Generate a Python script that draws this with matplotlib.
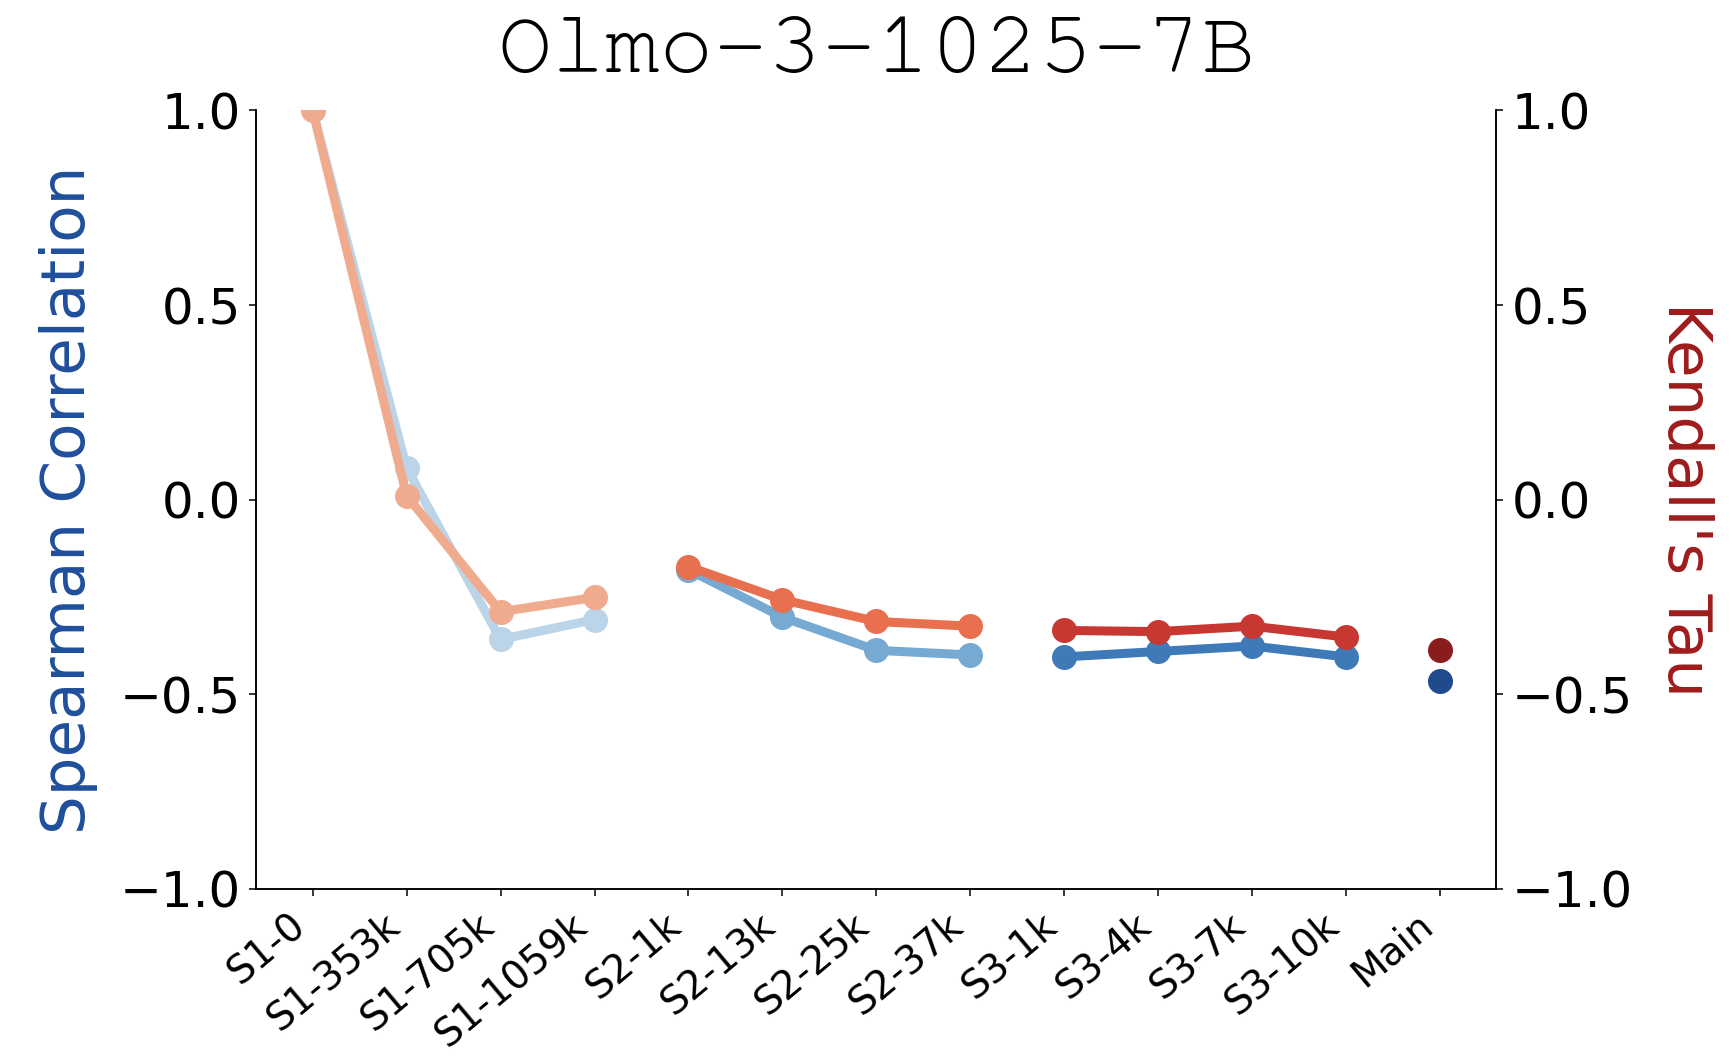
import matplotlib
matplotlib.use("Agg")
import matplotlib.pyplot as plt
from matplotlib import font_manager
import numpy as np

categories = ["S1-0", "S1-353k", "S1-705k", "S1-1059k", "S2-1k", "S2-13k", "S2-25k",
              "S2-37k", "S3-1k", "S3-4k", "S3-7k", "S3-10k", "Main"]
spearman = [1.0, 0.081, -0.359, -0.308, -0.18, -0.302, -0.387, -0.399,
            -0.404, -0.39, -0.376, -0.404, -0.467]
kendall = [1.0, 0.01, -0.288, -0.251, -0.172, -0.257, -0.313, -0.325,
           -0.336, -0.339, -0.325, -0.353, -0.387]
# stage groups (index ranges)
groups = [(0, 4), (4, 8), (8, 12), (12, 13)]
blue_colors = ["#bcd4e8", "#76aad2", "#3f7ab8", "#1f4a8c"]
red_colors = ["#f0ab8e", "#e8704f", "#c83832", "#8a1c1c"]

installed = {f.name for f in font_manager.fontManager.ttflist}
mono_pref = ["Courier New", "Nimbus Mono PS", "Courier", "FreeMono", "Liberation Mono"]
title_family = [f for f in mono_pref if f in installed] or ["monospace"]

fig = plt.figure(figsize=(17.32, 10.62), dpi=100)
ax = fig.add_axes([0.148, 0.163, 0.716, 0.733])
ax2 = ax.twinx()

x = np.arange(len(categories))
for (s, e), cb, cr in zip(groups, blue_colors, red_colors):
    ax.plot(x[s:e], spearman[s:e], "-o", color=cb, lw=6.5, ms=17, zorder=3)
    ax2.plot(x[s:e], kendall[s:e], "-o", color=cr, lw=6.5, ms=17, zorder=3)

for a in (ax, ax2):
    a.set_ylim(-1.0, 1.0)
    a.set_yticks([-1.0, -0.5, 0.0, 0.5, 1.0])
    a.spines["top"].set_visible(False)
    for sp in a.spines.values():
        sp.set_linewidth(1.1)
    a.tick_params(axis="y", labelsize=36, length=5, width=1.1, pad=6)
ax.set_xlim(-0.6, 12.6)
ax.set_xticks(x)
ax.set_xticklabels(categories, rotation=40, ha="right", fontsize=28)
ax.tick_params(axis="x", length=5, width=1.1, pad=7)

ax.set_ylabel("Spearman Correlation", fontsize=44, color="#1f4e9c", labelpad=16)
ax2.set_ylabel("Kendall's Tau", fontsize=44, color="#9e1b1b", rotation=270,
               labelpad=58)
ax.set_title("Olmo-3-1025-7B", fontsize=65, family=title_family, pad=28)

fig.savefig("out.png", dpi=100)
